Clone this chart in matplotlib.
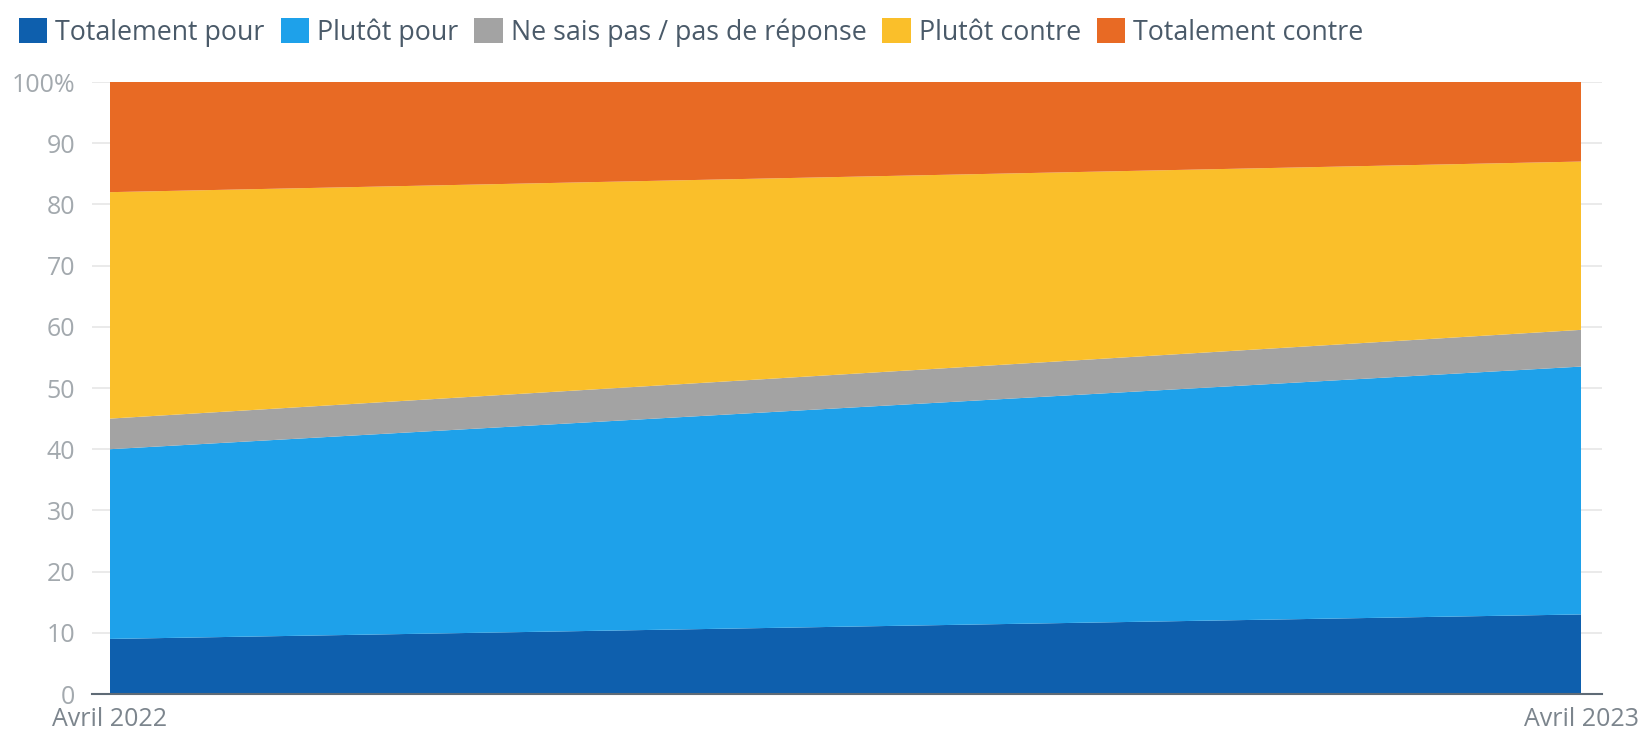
import matplotlib
matplotlib.use("Agg")
import matplotlib.pyplot as plt
from matplotlib.patches import Patch
import numpy as np

periods = ["Avril 2022", "Avril 2023"]
series_names = ["Totalement pour", "Plutôt pour", "Ne sais pas / pas de réponse",
                "Plutôt contre", "Totalement contre"]
totalement_pour = [9, 13]
plutot_pour = [31, 40.5]
ne_sais_pas = [5, 6]
plutot_contre = [37, 27.5]
totalement_contre = [18, 13]
colors = ["#0e5fad", "#1ea1ea", "#a3a3a3", "#fabf2a", "#e86a24"]
yticks = [0, 10, 20, 30, 40, 50, 60, 70, 80, 90, 100]
ytick_labels = ["0", "10", "20", "30", "40", "50", "60", "70", "80", "90", "100%"]

plt.rcParams['font.family'] = ['Open Sans', 'DejaVu Sans']

fig = plt.figure(figsize=(16.44, 7.33), dpi=100)
ax = fig.add_axes([92/1644, 39/733, (1602-92)/1644, (694-82)/733])

x = np.arange(len(periods))
data = [totalement_pour, plutot_pour, ne_sais_pas, plutot_contre, totalement_contre]
ax.stackplot(x, *data, colors=colors, linewidth=0, zorder=2)

ax.set_xlim(-18/1471, 1 + 21/1471)
ax.set_ylim(0, 100)
ax.set_yticks(yticks)
ax.set_yticklabels(ytick_labels)
ax.set_xticks(x)
ax.set_xticklabels(periods)
ax.grid(axis='y', color='#e6e6e6', linewidth=1.2, zorder=0)
ax.set_axisbelow(True)
for s in ['top', 'right', 'left']:
    ax.spines[s].set_visible(False)
ax.spines['bottom'].set_color('#5f6b76')
ax.spines['bottom'].set_linewidth(1.5)
ax.spines['bottom'].set_zorder(3)
ax.tick_params(axis='y', length=0, pad=12, labelsize=18, labelcolor='#a3a9ae')
ax.tick_params(axis='x', length=0, pad=9, labelsize=18, labelcolor='#7c858d')

handles = [Patch(facecolor=c, edgecolor='none') for c in colors]
fig.legend(handles, series_names, loc='upper left', bbox_to_anchor=(-0.003, 1.008),
           ncol=5, frameon=False, fontsize=19.3, handlelength=1.05, handleheight=1.05,
           handletextpad=0.3, columnspacing=0.6, labelcolor='#4a5a69')

fig.savefig("out.png", dpi=100)
